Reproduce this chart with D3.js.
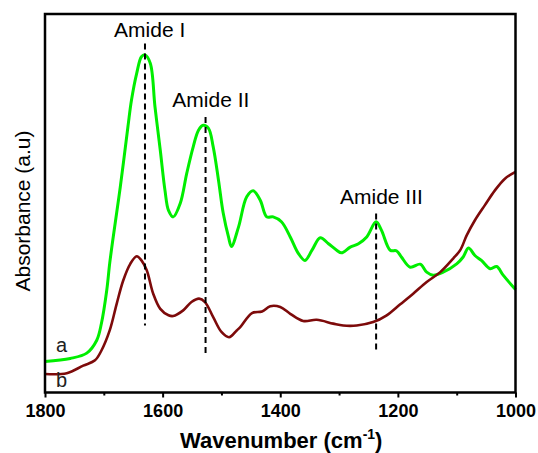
<!DOCTYPE html>
<html>
<head>
<meta charset="utf-8">
<script src="https://cdn.jsdelivr.net/npm/d3@7/dist/d3.min.js"></script>
<style>
  html, body { margin: 0; padding: 0; background: #fff; }
  svg { display: block; font-family: "Liberation Sans", Arial, Helvetica, sans-serif; }
</style>
</head>
<body>
<svg id="chart" width="538" height="453"></svg>
<script>
// FTIR spectra: wavenumber (cm^-1) and absorbance (arbitrary units)
const wavenumberA = [1800, 1757, 1729, 1712, 1704, 1695, 1690, 1684, 1672, 1659, 1653, 1644, 1636, 1630, 1621, 1613, 1604, 1596, 1590, 1582, 1570, 1559, 1548, 1539, 1531, 1522, 1514, 1505, 1497, 1488, 1483, 1471, 1457, 1446, 1434, 1423, 1412, 1398, 1383, 1369, 1358, 1346, 1332, 1318, 1304, 1296, 1281, 1267, 1253, 1237, 1228, 1213, 1202, 1194, 1179, 1162, 1151, 1140, 1123, 1100, 1089, 1080, 1069, 1058, 1043, 1032, 1021, 1000];
const absorbanceA = [0.082, 0.090, 0.104, 0.138, 0.183, 0.270, 0.341, 0.411, 0.543, 0.702, 0.772, 0.844, 0.887, 0.892, 0.870, 0.755, 0.640, 0.534, 0.481, 0.464, 0.500, 0.579, 0.649, 0.693, 0.706, 0.698, 0.649, 0.561, 0.474, 0.411, 0.386, 0.437, 0.517, 0.533, 0.508, 0.464, 0.464, 0.451, 0.411, 0.367, 0.349, 0.376, 0.409, 0.393, 0.376, 0.369, 0.384, 0.393, 0.411, 0.451, 0.429, 0.376, 0.374, 0.358, 0.331, 0.339, 0.318, 0.310, 0.318, 0.340, 0.358, 0.382, 0.362, 0.349, 0.327, 0.333, 0.310, 0.272];

const wavenumberB = [1800, 1763, 1735, 1715, 1704, 1690, 1678, 1667, 1655, 1644, 1636, 1627, 1616, 1604, 1590, 1582, 1565, 1551, 1538, 1528, 1514, 1500, 1487, 1474, 1468, 1448, 1431, 1417, 1400, 1383, 1361, 1338, 1310, 1293, 1270, 1242, 1219, 1196, 1174, 1151, 1128, 1106, 1094, 1083, 1069, 1052, 1035, 1018, 1000];
const absorbanceB = [0.049, 0.051, 0.071, 0.085, 0.111, 0.164, 0.235, 0.296, 0.340, 0.360, 0.349, 0.323, 0.261, 0.221, 0.204, 0.202, 0.217, 0.239, 0.248, 0.239, 0.199, 0.160, 0.146, 0.164, 0.173, 0.210, 0.214, 0.228, 0.226, 0.208, 0.189, 0.192, 0.182, 0.177, 0.177, 0.186, 0.204, 0.233, 0.261, 0.292, 0.318, 0.354, 0.376, 0.415, 0.455, 0.495, 0.534, 0.565, 0.583];

const seriesNames = ["a", "b"];
const seriesColors = ["#00ee00", "#7d0a0a"];

// Band assignments: label, position (cm^-1), dashed marker extent in absorbance
const bandLabels = ["Amide I", "Amide II", "Amide III"];
const bandPositions = [1630, 1527, 1237];
const bandTop = [0.922, 0.728, 0.473];
const bandBottom = [0.177, 0.103, 0.107];

const majorTicks = [1800, 1600, 1400, 1200, 1000];
const minorTicks = [1700, 1500, 1300, 1100];

const svg = d3.select("#chart");
const margin = { top: 14, right: 22.5, bottom: 60.5, left: 45 };
const width = 538 - margin.left - margin.right;
const height = 453 - margin.top - margin.bottom;

const x = d3.scaleLinear().domain([1800, 1000]).range([0, width]);
const y = d3.scaleLinear().domain([0, 1]).range([height, 0]);

const g = svg.append("g").attr("transform", `translate(${margin.left},${margin.top})`);

// Minor ticks
const minorAxis = d3.axisBottom(x).tickValues(minorTicks).tickSize(3).tickFormat("");
g.append("g").attr("transform", `translate(0,${height})`).call(minorAxis)
  .call(s => s.select(".domain").remove())
  .call(s => s.selectAll("line").attr("stroke", "#000").attr("stroke-width", 2));

// Major ticks with labels
const majorAxis = d3.axisBottom(x).tickValues(majorTicks).tickSize(5).tickFormat(d3.format("d"));
g.append("g").attr("transform", `translate(0,${height})`).call(majorAxis)
  .call(s => s.select(".domain").remove())
  .call(s => s.selectAll("line").attr("stroke", "#000").attr("stroke-width", 2))
  .call(s => s.selectAll("text")
    .attr("y", 12).attr("dy", "0.71em")
    .attr("fill", "#000")
    .style("font-size", "18px").style("font-weight", "bold")
    .style("font-family", '"Liberation Sans", Arial, sans-serif'));

// Spectra
const line = d3.line()
  .x(d => x(d[0]))
  .y(d => y(d[1]))
  .curve(d3.curveCatmullRom.alpha(0.5));

const series = [
  d3.zip(wavenumberA, absorbanceA),
  d3.zip(wavenumberB, absorbanceB)
];

series.forEach((pts, i) => {
  g.append("path")
    .datum(pts)
    .attr("fill", "none")
    .attr("stroke", seriesColors[i])
    .attr("stroke-width", i === 0 ? 3 : 2.6)
    .attr("stroke-linejoin", "round")
    .attr("d", line);
});

// Band markers
bandLabels.forEach((lab, i) => {
  const bx = x(bandPositions[i]);
  g.append("line")
    .attr("x1", bx).attr("x2", bx)
    .attr("y1", y(bandTop[i])).attr("y2", y(bandBottom[i]))
    .attr("stroke", "#000").attr("stroke-width", 2)
    .attr("stroke-dasharray", "6,4");
});

const bandLabelX = [1622, 1518, 1228];
const bandLabelY = [0.938, 0.753, 0.499];
bandLabels.forEach((lab, i) => {
  g.append("text")
    .attr("x", x(bandLabelX[i]))
    .attr("y", y(bandLabelY[i]))
    .attr("text-anchor", "middle")
    .attr("fill", "#000")
    .style("font-size", "21px")
    .text(lab);
});

// Series labels
const seriesLabelX = [1772, 1772];
const seriesLabelY = [0.106, 0.014];
seriesNames.forEach((n, i) => {
  g.append("text")
    .attr("x", x(seriesLabelX[i]))
    .attr("y", y(seriesLabelY[i]))
    .attr("text-anchor", "middle")
    .attr("fill", "#222")
    .style("font-size", "20px")
    .text(n);
});

// Frame
g.append("rect")
  .attr("x", 0).attr("y", 0)
  .attr("width", width).attr("height", height)
  .attr("fill", "none").attr("stroke", "#000").attr("stroke-width", 2.5);

// Axis titles
const xt = svg.append("text")
  .attr("x", margin.left + width / 2 + 1)
  .attr("y", 448)
  .attr("text-anchor", "middle")
  .attr("fill", "#000")
  .style("font-size", "22px").style("font-weight", "bold");
xt.append("tspan").text("Wavenumber (cm");
xt.append("tspan").attr("dy", "-9").style("font-size", "14px").text("-1");
xt.append("tspan").attr("dy", "9").text(")");

svg.append("text")
  .attr("transform", `translate(30,211) rotate(-90)`)
  .attr("text-anchor", "middle")
  .attr("fill", "#000")
  .style("font-size", "21px")
  .text("Absorbance (a.u)");
</script>
</body>
</html>
